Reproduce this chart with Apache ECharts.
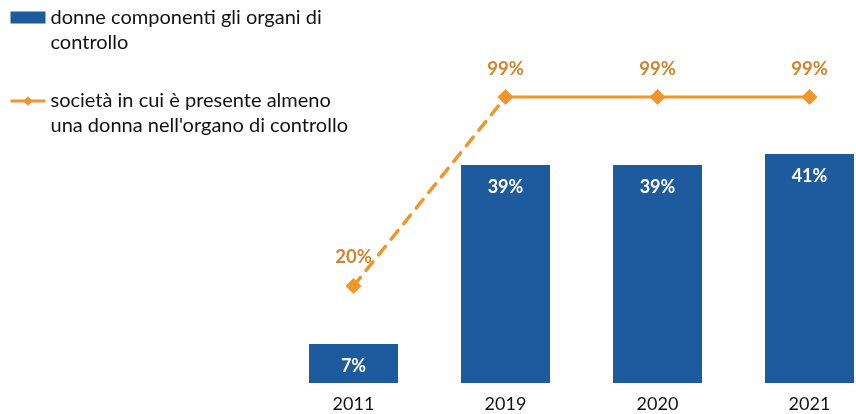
<!DOCTYPE html>
<html>
<head>
<meta charset="utf-8">
<script src="https://cdn.jsdelivr.net/npm/echarts@6/dist/echarts.min.js"></script>
<style>
  html, body { margin: 0; padding: 0; background: #fff; }
  #echart { width: 856px; height: 414px; }
</style>
</head>
<body>
<div id="echart"></div>
<script>
var myChart = echarts.init(document.getElementById("echart"));

var anni = ['2011', '2019', '2020', '2021'];
var donne = [7, 39, 39, 41];
var societa = [20, 99, 99, 99];

var nomeBar = 'donne componenti gli organi di\ncontrollo';
var nomeLinea = 'società in cui è presente almeno\nuna donna nell\'organo di controllo';

var arancio = '#F0962C';
var font = 'Lato, "Open Sans", sans-serif';

var etichettaLinea = {
	show: true,
	position: 'top',
	distance: 11,
	color: '#D0842E',
	fontWeight: 'bold',
	fontSize: 18.5,
	fontFamily: font,
	formatter: '{c}%'
};

// tratto tratteggiato 2011-2019 (con il solo punto 2011), continuo dal 2019 in poi
var tratteggio = societa.map(function (v, i) {
	if (i === 0) return { value: v, symbol: 'diamond', label: etichettaLinea };
	if (i === 1) return { value: v, symbol: 'none' };
	return null;
});
var continua = societa.map(function (v, i) { return i >= 1 ? v : null; });

option = {
	animation: false,
	textStyle: { fontFamily: font },
	legend: {
		orient: 'vertical',
		left: 9,
		top: -20,
		padding: 0,
		itemGap: 8.5,
		itemWidth: 35,
		itemHeight: 12,
		lineStyle: { width: 3 },
		data: [
			{ name: nomeBar, icon: 'rect' },
			{ name: nomeLinea, lineStyle: { width: 3, color: arancio }, itemStyle: { color: arancio } }
		],
		// riga vuota in testa: la prima riga del testo resta allineata al simbolo
		formatter: function (name) { return ' \n' + name; },
		textStyle: {
			fontSize: 20,
			lineHeight: 25,
			color: '#111',
			fontFamily: font
		}
	},
	// assi con le categorie sui bordi della griglia
	grid: { left: 353.5, right: 46.5, top: 60, bottom: 31 },
	xAxis: {
		type: 'category',
		data: anni,
		boundaryGap: false,
		axisLine: { show: false },
		axisTick: { show: false },
		axisLabel: { fontSize: 18, color: '#111', margin: 12, fontFamily: font }
	},
	yAxis: [
		{ type: 'value', min: 0, max: 57.8, show: false, splitLine: { show: false } },
		{ type: 'value', min: -20.57, max: 114.5, show: false, splitLine: { show: false } }
	],
	series: [
		{
			name: nomeBar,
			type: 'bar',
			data: donne,
			barWidth: 89,
			clip: false,
			itemStyle: { color: '#1E5A9E' },
			label: {
				show: true,
				position: 'insideTop',
				distance: 13,
				color: '#fff',
				fontWeight: 'bold',
				fontSize: 18,
				fontFamily: font,
				formatter: '{c}%'
			}
		},
		{
			name: 'tratteggio',
			type: 'line',
			yAxisIndex: 1,
			data: tratteggio,
			clip: false,
			symbolSize: 16,
			itemStyle: { color: arancio },
			lineStyle: { color: arancio, width: 3.5, type: [11, 9], cap: 'round' },
			z: 3
		},
		{
			name: nomeLinea,
			type: 'line',
			yAxisIndex: 1,
			data: continua,
			clip: false,
			symbol: 'diamond',
			symbolSize: 16,
			itemStyle: { color: arancio },
			lineStyle: { color: arancio, width: 3 },
			label: etichettaLinea,
			z: 4
		}
	]
};

myChart.setOption(option);
</script>
</body>
</html>
